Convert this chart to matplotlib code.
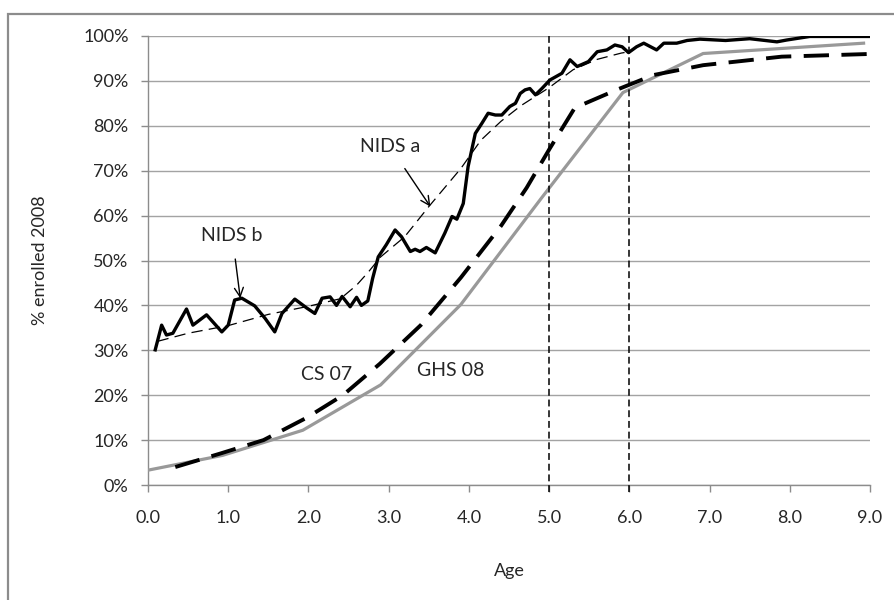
import matplotlib

matplotlib.use("Agg")
import matplotlib.pyplot as plt
from matplotlib.patches import Rectangle
from matplotlib.ticker import FuncFormatter

# NIDS, single-year raw enrolment (jagged series)
nids_age = [0.09, 0.17, 0.23, 0.31, 0.48, 0.56, 0.73, 0.92, 1.00, 1.08, 1.17, 1.33,
            1.46, 1.58, 1.67, 1.83, 1.98, 2.08, 2.17, 2.27, 2.35, 2.42, 2.52, 2.60,
            2.66, 2.74, 2.80, 2.87, 2.97, 3.08, 3.16, 3.27, 3.33, 3.39, 3.47, 3.58,
            3.70, 3.79, 3.85, 3.93, 3.99, 4.08, 4.16, 4.24, 4.33, 4.41, 4.51, 4.58,
            4.64, 4.70, 4.76, 4.83, 4.91, 5.01, 5.16, 5.26, 5.35, 5.49, 5.60, 5.72,
            5.82, 5.91, 5.99, 6.09, 6.18, 6.34, 6.43, 6.59, 6.72, 6.88, 7.20, 7.50,
            7.84, 7.96, 8.25, 9.00]
nids_pct = [30.1, 35.6, 33.4, 33.8, 39.2, 35.6, 37.9, 34.1, 35.6, 41.2, 41.6, 39.9,
            37.1, 34.1, 38.2, 41.4, 39.4, 38.2, 41.6, 41.9, 40.0, 42.0, 39.7, 41.8,
            40.0, 41.0, 46.0, 50.8, 53.5, 56.8, 55.3, 52.0, 52.5, 52.0, 52.9, 51.7,
            56.1, 59.8, 59.2, 62.7, 70.9, 78.3, 80.5, 82.8, 82.4, 82.4, 84.3, 85.0,
            87.2, 88.0, 88.3, 86.9, 88.3, 90.2, 91.7, 94.7, 93.2, 94.3, 96.5, 96.9,
            98.0, 97.6, 96.3, 97.6, 98.4, 96.9, 98.4, 98.4, 99.0, 99.3, 99.0, 99.4,
            98.7, 99.1, 99.9, 99.9]

# NIDS smoothed fit (thin dashed)
fit_age = [0.12, 0.5, 1.0, 1.5, 2.0, 2.4, 2.6, 2.75, 2.9, 3.2, 3.5, 3.9, 4.15, 4.4,
           4.65, 5.0, 5.3, 5.6, 5.9, 6.0]
fit_pct = [32.0, 33.8, 35.5, 38.0, 39.8, 41.5, 44.5, 47.5, 50.8, 55.3, 62.0, 70.5,
           76.8, 81.0, 84.5, 88.5, 92.5, 94.8, 96.2, 96.5]

# Community Survey 2007
cs_age = [0.34, 0.9, 1.44, 1.98, 2.43, 2.89, 3.4, 3.9, 4.4, 4.72, 5.01, 5.32, 5.84,
          6.3, 6.92, 7.9, 9.0]
cs_pct = [4.0, 7.0, 10.0, 15.0, 20.0, 27.0, 35.6, 46.2, 57.7, 66.2, 75.0, 84.0, 88.0,
          91.3, 93.5, 95.4, 96.0]

# General Household Survey 2008
ghs_age = [0.0, 0.93, 1.93, 2.9, 3.9, 4.9, 5.92, 6.92, 8.92]
ghs_pct = [3.3, 6.6, 12.2, 22.3, 40.2, 63.8, 87.4, 96.1, 98.4]

cutoffs = [5.0, 6.0]
x_ticks = [0.0, 1.0, 2.0, 3.0, 4.0, 5.0, 6.0, 7.0, 8.0, 9.0]
y_ticks = list(range(0, 101, 10))

plt.rcParams["font.family"] = ["Lato", "DejaVu Sans"]
GRID = "#a3a3a3"
SPINE = "#8c8c8c"
TEXT = "#262626"

fig = plt.figure(figsize=(8.94, 6.0), dpi=100)
ax = fig.add_axes([148 / 894, 1 - 485 / 600, 722 / 894, 449 / 600])

# outer chart frame, running off the right and bottom edges
fig.patches.append(Rectangle((8 / 894, -0.1), 1.2, 1 - 14 / 600 + 0.1,
                             transform=fig.transFigure, fill=False,
                             edgecolor=SPINE, linewidth=1.6))

ax.plot(ghs_age, ghs_pct, color="#999999", lw=2.3, solid_joinstyle="miter", zorder=3)
ax.plot(cs_age, cs_pct, color="black", lw=2.8, dashes=(6.5, 3.2), zorder=4)
ax.plot(fit_age, fit_pct, color="black", lw=0.9, dashes=(9, 5), zorder=4)
ax.plot(nids_age, nids_pct, color="black", lw=2.4, solid_joinstyle="round", zorder=5)
for c in cutoffs:
    ax.plot([c, c], [-1.5, 100], color="black", lw=1.1, dashes=(4.5, 2.5), zorder=6,
            clip_on=False)

ax.set_xlim(0, 9)
ax.set_ylim(0, 100)
ax.set_xticks(x_ticks)
ax.set_yticks(y_ticks)
ax.xaxis.set_major_formatter(FuncFormatter(lambda v, _: f"{v:.1f}"))
ax.yaxis.set_major_formatter(FuncFormatter(lambda v, _: f"{v:.0f}%"))
ax.grid(axis="y", color=GRID, lw=1.0)
ax.set_axisbelow(True)
for side in ("top", "right"):
    ax.spines[side].set_visible(False)
for side in ("left", "bottom"):
    ax.spines[side].set_color(SPINE)
    ax.spines[side].set_linewidth(1.0)
ax.tick_params(axis="both", color=SPINE, length=5, width=1.0, labelsize=13,
               labelcolor=TEXT)
ax.tick_params(axis="y", pad=9)
ax.tick_params(axis="x", pad=13)

ax.set_xlabel("Age", fontsize=13, color=TEXT)
ax.set_ylabel("% enrolled 2008", fontsize=13, color=TEXT)
ax.xaxis.set_label_coords(0.5, -0.174)
ax.yaxis.set_label_coords(-0.1385, 0.5)

ax.annotate("NIDS b", xy=(1.15, 41.6), xytext=(1.05, 55.6), ha="center", va="center",
            fontsize=14, color=TEXT,
            arrowprops=dict(arrowstyle="->", color="black", lw=1.0, shrinkA=9,
                            shrinkB=0, mutation_scale=16))
ax.annotate("NIDS a", xy=(3.52, 62.0), xytext=(3.02, 75.3), ha="center", va="center",
            fontsize=14, color=TEXT,
            arrowprops=dict(arrowstyle="->", color="black", lw=1.0, shrinkA=9,
                            shrinkB=0, mutation_scale=16))
ax.text(2.23, 24.5, "CS 07", ha="center", va="center", fontsize=14, color=TEXT)
ax.text(3.77, 25.6, "GHS 08", ha="center", va="center", fontsize=14, color=TEXT)

fig.savefig("out.png", dpi=100)
